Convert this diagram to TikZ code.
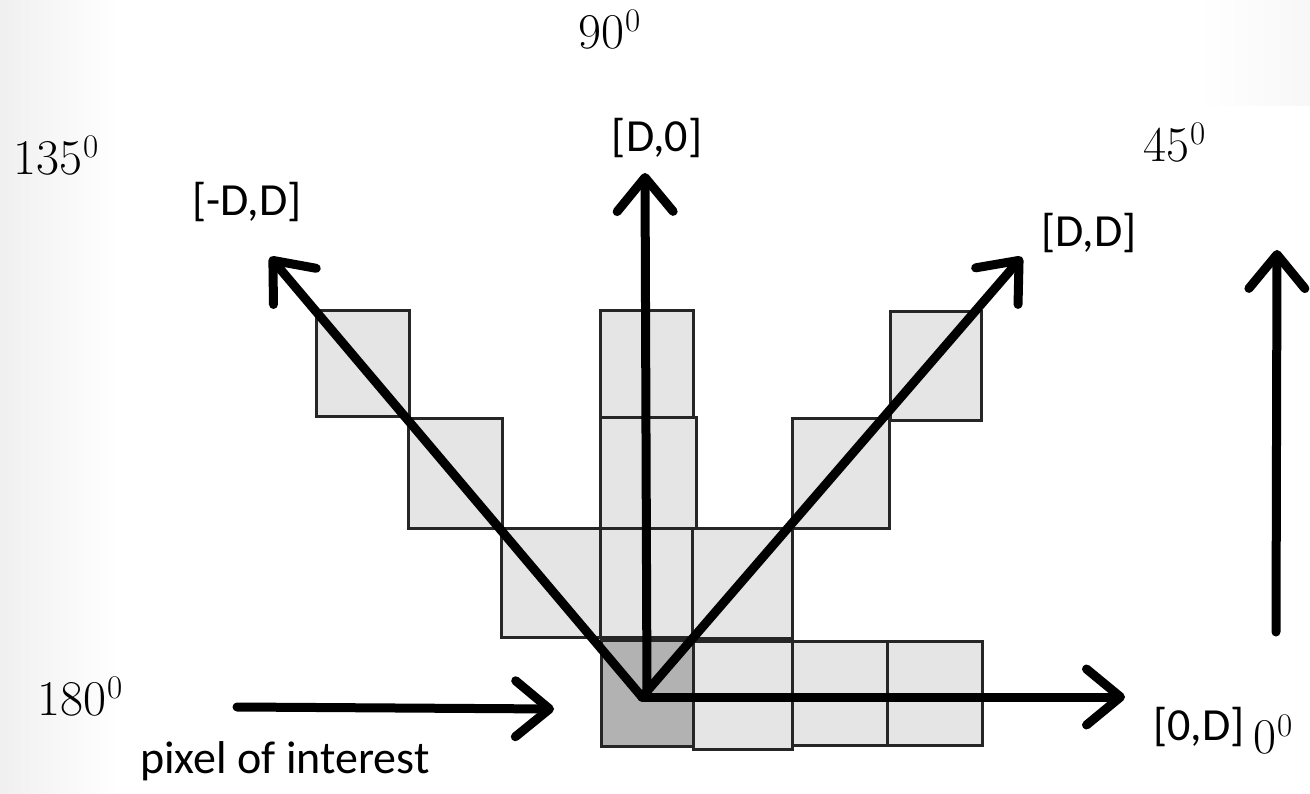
\documentclass[tikz,border=0pt]{standalone}
\usepackage{fontspec}
\newfontfamily\labfont{Carlito}
\usetikzlibrary{arrows.meta}
\newcommand\anglab[1]{#1\kern1pt\raisebox{17pt}{\fontsize{33}{36}\selectfont 0}}
\begin{document}
\begin{tikzpicture}[x=1pt,y=-1pt,
  cell/.style={fill=gray!20, draw=black!85, line width=3pt},
  poicell/.style={fill=gray!60, draw=black!85, line width=3pt},
  arr/.style={line width=9pt, line cap=round, -{Straight Barb[length=34pt,width=56pt,round]}},
  ang/.style={inner sep=0pt, font=\fontsize{50}{59}\selectfont, anchor=base west},
  lab/.style={inner sep=0pt, font=\labfont\fontsize{46}{55}\selectfont, anchor=base},
]
\useasboundingbox (0,0) rectangle (1310,794);
\fill[white] (0,0) rectangle (1310,794);
\shade[left color=black!6,right color=white] (0,0) rectangle (118,794);
\shade[left color=white,right color=black!3] (1197,0) rectangle (1310,106);

% cells
\draw[cell] (316,311) rectangle (409,416);
\draw[cell] (600,311) rectangle (693,417);
\draw[cell] (890,312) rectangle (981,420);
\draw[cell] (408,418) rectangle (502,528);
\draw[cell] (600,417) rectangle (696,528);
\draw[cell] (792,418) rectangle (889,528);
\draw[cell] (501,528) rectangle (600,637);
\draw[cell] (600,528) rectangle (692,637);
\draw[cell] (692,528) rectangle (792,638);
\draw[poicell] (601,640) rectangle (693,746);
\draw[cell] (693,641) rectangle (792,749);
\draw[cell] (792,641) rectangle (887,745);
\draw[cell] (887,641) rectangle (982,745);

% coordinates
\coordinate (O) at (642,697);
\coordinate (Ov) at (647,697);
\coordinate (tN) at (645,173);
\coordinate (tNW) at (270,257);
\coordinate (tNE) at (1022,257);
\coordinate (tE) at (1125,697);
\coordinate (rb) at (1276,632);
\coordinate (rt) at (1277,250);
\coordinate (ps) at (237,707);
\coordinate (pt) at (554,709);

% arrows
\draw[arr] (O) -- (tNW);
\draw[arr] (O) -- (tNE);
\draw[arr] (O) -- (tE);
\draw[arr] (Ov) -- (tN);
\draw[arr] (rb) -- (rt);
\draw[arr] (ps) -- (pt);

% angle labels
\node[ang] (a90) at (578,49) {\anglab{90}};
\node[ang] (a135) at (13,175) {\anglab{135}};
\node[ang] (a45) at (1143,162) {\anglab{45}};
\node[ang] (a180) at (37,715) {\anglab{180}};
\node[ang] (a0) at (1253,753) {\anglab{0}};

% direction labels
\node[lab] (lN) at (657,152) {[D,0]};
\node[lab] (lNW) at (247,216) {[-D,D]};
\node[lab] (lNE) at (1089,247) {[D,D]};
\node[lab] (lE) at (1199,740) {[0,D]};
\node[lab, anchor=base west] (lpoi) at (140,773) {pixel of interest};
\end{tikzpicture}
\end{document}
